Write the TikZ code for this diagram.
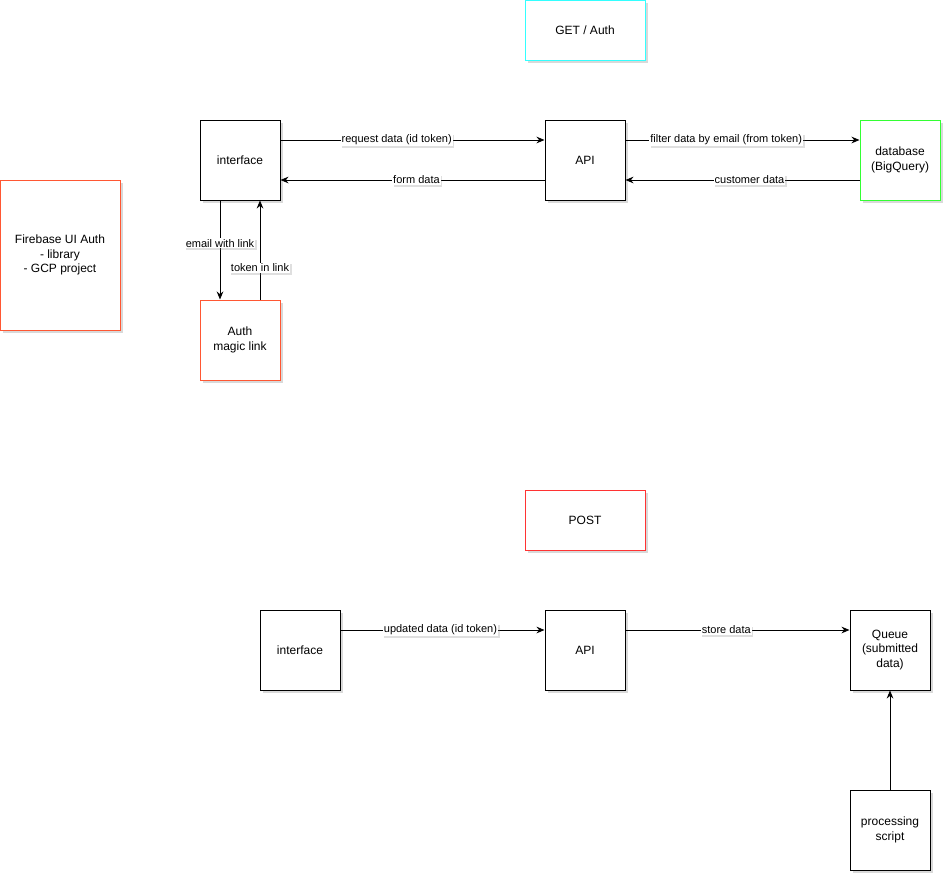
\documentclass[tikz,border=0pt]{standalone}
\usepackage{fontspec}
\setmainfont{Liberation Sans}
\usetikzlibrary{shadows,arrows.meta}
\definecolor{cyanb}{HTML}{33FFFF}
\definecolor{orangeb}{HTML}{FF5733}
\definecolor{greenb}{HTML}{33FF33}
\definecolor{redb}{HTML}{FF3333}
\tikzset{
  box/.style={draw=black, fill=white, line width=0.75pt, minimum width=60pt, minimum height=60pt, align=center, font=\fontsize{9}{11}\selectfont, inner sep=0pt, drop shadow={shadow xshift=2pt, shadow yshift=-2pt, opacity=0.3}},
  wide/.style={minimum width=90pt, minimum height=45pt},
  tall/.style={minimum width=90pt, minimum height=112.5pt},
  lbl/.style={fill=white, inner sep=0.8pt, font=\fontsize{8.25}{9.5}\selectfont, drop shadow={shadow xshift=1.2pt, shadow yshift=-1.2pt, opacity=0.25}},
  conn/.style={line width=0.75pt, -{Stealth[length=6pt,width=5pt]}}
}
\begin{document}
\begin{tikzpicture}[x=0.75pt,y=-0.75pt]
\useasboundingbox (0,0) rectangle (952,882);
% top section
\node[box, wide, draw=cyanb] (get) at (585,30) {GET / Auth};
\node[box] (iface) at (240,160) {interface};
\node[box] (api) at (585,160) {API};
\node[box, draw=greenb] (db) at (900,160) {database\\(BigQuery)};
\node[box, tall, draw=orangeb] (fb) at (60,255) {Firebase UI Auth\\- library\\- GCP project};
\node[box, draw=orangeb] (auth) at (240,340) {Auth\\magic link};
\draw[conn] (iface.east |- 0,140) -- (api.west |- 0,140) node[lbl, pos=0.44] {request data (id token)};
\draw[conn] (api.west |- 0,180) -- (iface.east |- 0,180) node[lbl, pos=0.485] {form data};
\draw[conn] (api.east |- 0,140) -- (db.west |- 0,140) node[lbl, pos=0.43] {filter data by email (from token)};
\draw[conn] (db.west |- 0,180) -- (api.east |- 0,180) node[lbl, pos=0.47] {customer data};
\draw[conn] (iface.south -| 220,0) -- (auth.north -| 220,0) node[lbl, pos=0.43] {email with link};
\draw[conn] (auth.north -| 260,0) -- (iface.south -| 260,0) node[lbl, pos=0.32] {token in link};
% bottom section
\node[box, wide, draw=redb] (post) at (585,520) {POST};
\node[box] (iface2) at (300,650) {interface};
\node[box] (api2) at (585,650) {API};
\node[box] (queue) at (890,650) {Queue\\(submitted\\data)};
\node[box] (proc) at (890,830) {processing\\script};
\draw[conn] (iface2.east |- 0,630) -- (api2.west |- 0,630) node[lbl, pos=0.49] {updated data (id token)};
\draw[conn] (api2.east |- 0,630) -- (queue.west |- 0,630) node[lbl, pos=0.45] {store data};
\draw[conn] (proc) -- (queue);
\end{tikzpicture}
\end{document}
